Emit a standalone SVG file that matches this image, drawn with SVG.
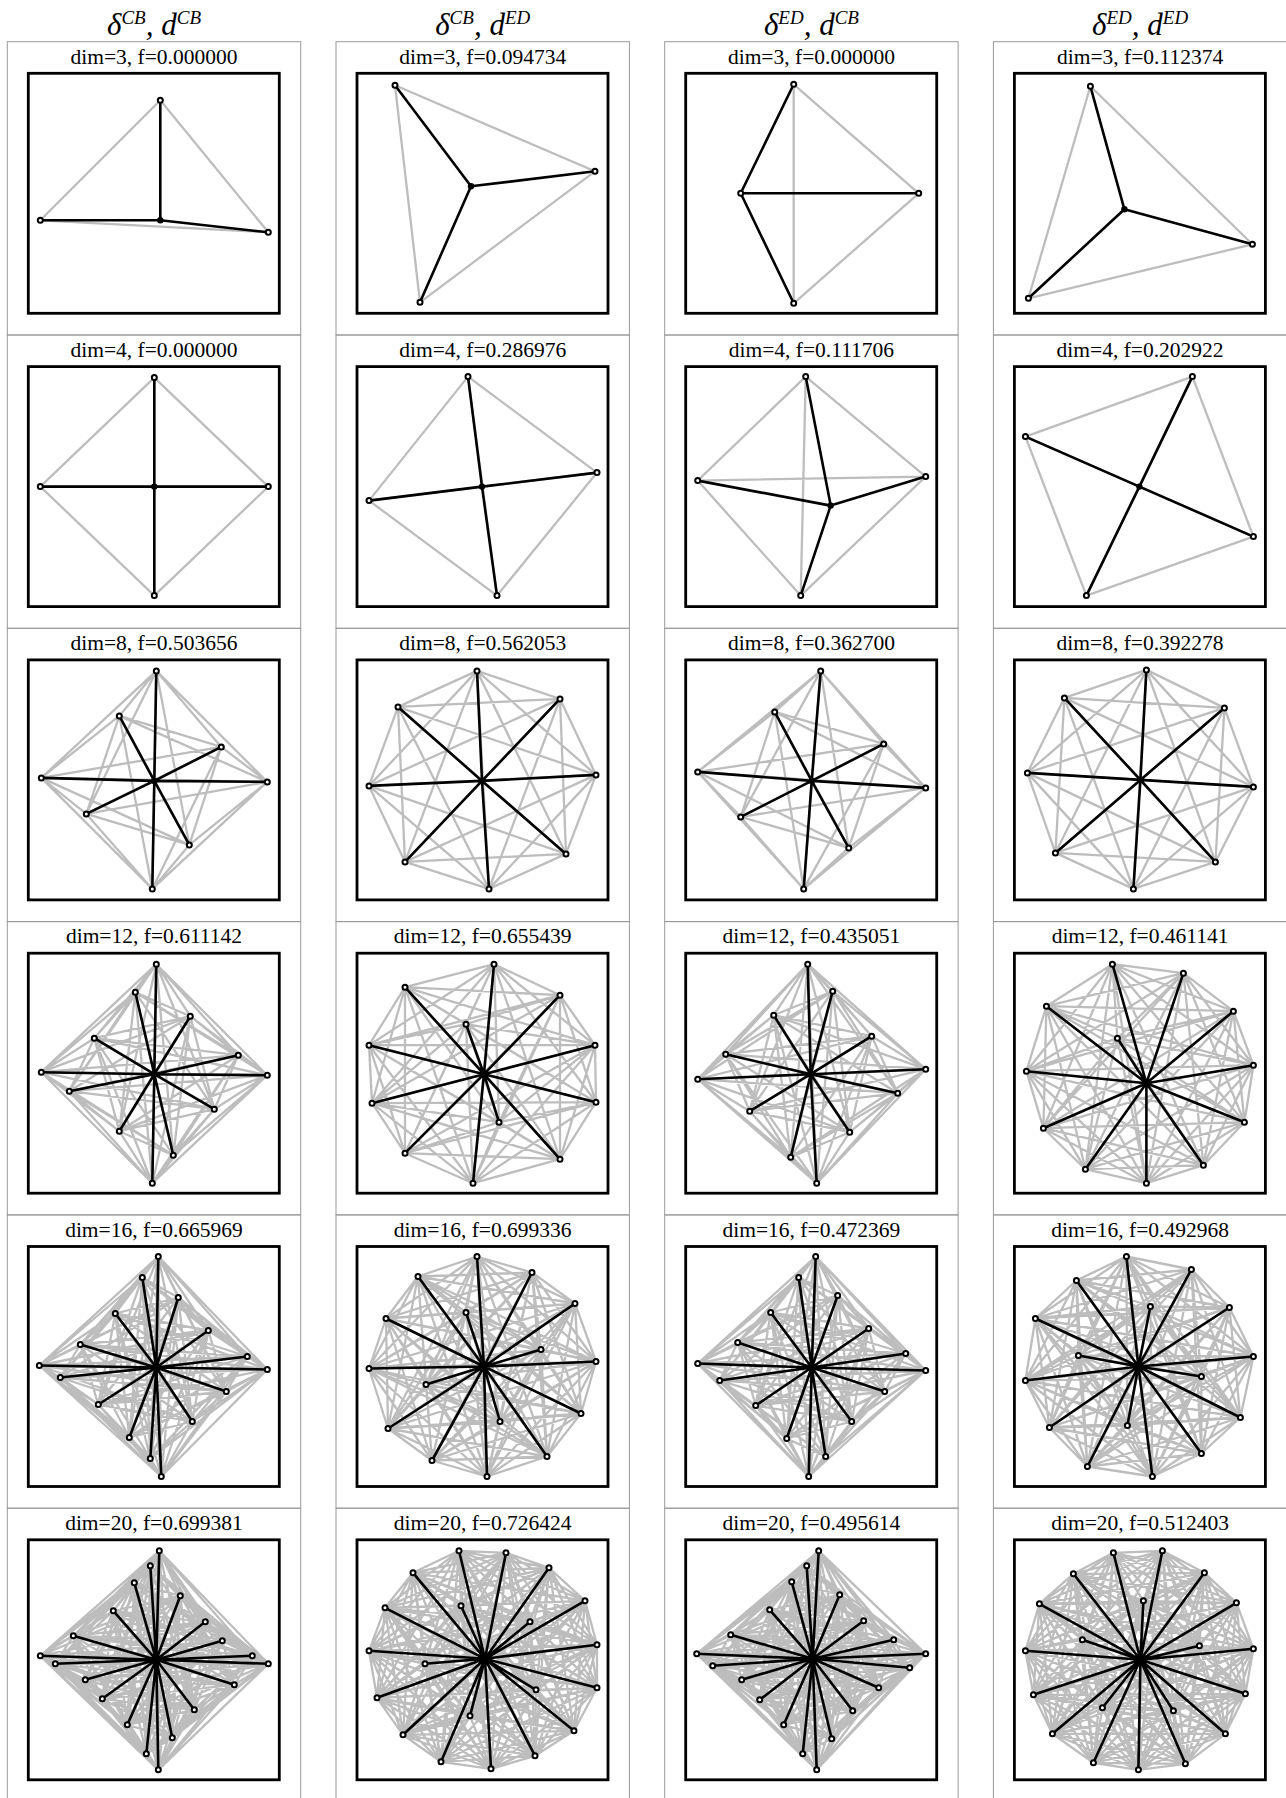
<svg xmlns="http://www.w3.org/2000/svg" width="1286" height="1798" viewBox="0 0 1286 1798">
<style>
text{font-family:"Liberation Serif","Times New Roman",serif;fill:#000}
.hd{font-size:31px;font-style:italic;text-anchor:middle}
.sup{font-size:19px}
.tt{font-size:21.5px;text-anchor:middle}
.cell{fill:none;stroke:#9a9a9a;stroke-width:1}
.b{fill:#fff;stroke:#000;stroke-width:2.8}
.g{fill:none;stroke:#bdbdbd;stroke-width:2.3;stroke-linejoin:round}
.k{fill:none;stroke:#000;stroke-width:2.6;stroke-linecap:round;stroke-linejoin:round}
.p{fill:none;stroke:none;marker-start:url(#o);marker-mid:url(#o);marker-end:url(#o)}
.c{fill:#000}
</style>
<defs>
<marker id="o" markerUnits="userSpaceOnUse" markerWidth="10" markerHeight="10" refX="5" refY="5" overflow="visible"><circle cx="5" cy="5" r="2.5" fill="#fff" stroke="#000" stroke-width="2"/></marker>
</defs>
<rect width="1286" height="1798" fill="#fff"/>
<g id="headers">
<text class="hd" x="154" y="35">δ<tspan class="sup" dy="-11">CB</tspan><tspan dy="11">, d</tspan><tspan class="sup" dy="-11">CB</tspan></text>
<text class="hd" x="482.7" y="35">δ<tspan class="sup" dy="-11">CB</tspan><tspan dy="11">, d</tspan><tspan class="sup" dy="-11">ED</tspan></text>
<text class="hd" x="811.4" y="35">δ<tspan class="sup" dy="-11">ED</tspan><tspan dy="11">, d</tspan><tspan class="sup" dy="-11">CB</tspan></text>
<text class="hd" x="1140.1" y="35">δ<tspan class="sup" dy="-11">ED</tspan><tspan dy="11">, d</tspan><tspan class="sup" dy="-11">ED</tspan></text>
</g>

<g id="cell-1-1"><rect class="cell" x="7.3" y="41.7" width="293.4" height="293.3"/><text class="tt" x="154" y="63.5">dim=3, f=0.000000</text>
<g transform="translate(28.3 73.3)"><rect class="b" width="251" height="240"/>
<g class="edges"><path class="g" d="M132 27 12 147 240 159Z"/><path class="k" d="M132 27 132 147 12 147M132 147 240 159"/></g>
<path class="p" d="M132 27 12 147 240 159"/><circle class="c" cx="132" cy="147" r="3.2"/></g></g>

<g id="cell-1-2"><rect class="cell" x="336" y="41.7" width="293.4" height="293.3"/><text class="tt" x="482.7" y="63.5">dim=3, f=0.094734</text>
<g transform="translate(357 73.3)"><rect class="b" width="251" height="240"/>
<g class="edges"><path class="g" d="M38 12 238 98 63 229Z"/><path class="k" d="M38 12 114 113 238 98M114 113 63 229"/></g>
<path class="p" d="M38 12 238 98 63 229"/><circle class="c" cx="114" cy="113" r="3.2"/></g></g>

<g id="cell-1-3"><rect class="cell" x="664.7" y="41.7" width="293.4" height="293.3"/><text class="tt" x="811.4" y="63.5">dim=3, f=0.000000</text>
<g transform="translate(685.7 73.3)"><rect class="b" width="251" height="240"/>
<g class="edges"><path class="g" d="M108 11 233 120 108 230Z"/><path class="k" d="M108 11 55 120 233 120M55 120 108 230"/></g>
<path class="p" d="M108 11 233 120 108 230 55 120"/></g></g>

<g id="cell-1-4"><rect class="cell" x="993.4" y="41.7" width="293.4" height="293.3"/><text class="tt" x="1140.1" y="63.5">dim=3, f=0.112374</text>
<g transform="translate(1014.4 73.3)"><rect class="b" width="251" height="240"/>
<g class="edges"><path class="g" d="M76 13 238 171 14 225Z"/><path class="k" d="M76 13 110 136 238 171M110 136 14 225"/></g>
<path class="p" d="M76 13 238 171 14 225"/><circle class="c" cx="110" cy="136" r="3.2"/></g></g>

<g id="cell-2-1"><rect class="cell" x="7.3" y="335" width="293.4" height="293.3"/><text class="tt" x="154" y="356.8">dim=4, f=0.000000</text>
<g transform="translate(28.3 366.6)"><rect class="b" width="251" height="240"/>
<g class="edges"><path class="g" d="M126 11 240 120 126 229 12 120ZM126 11 126 229M240 120 12 120"/><path class="k" d="M126 11 126 120 240 120M126 229 126 120 12 120"/></g>
<path class="p" d="M126 11 240 120 126 229 12 120"/><circle class="c" cx="126" cy="120" r="3.2"/></g></g>

<g id="cell-2-2"><rect class="cell" x="336" y="335" width="293.4" height="293.3"/><text class="tt" x="482.7" y="356.8">dim=4, f=0.286976</text>
<g transform="translate(357 366.6)"><rect class="b" width="251" height="240"/>
<g class="edges"><path class="g" d="M111 10 240 106 140 229 12 134ZM111 10 140 229M240 106 12 134"/><path class="k" d="M111 10 125 120 240 106M140 229 125 120 12 134"/></g>
<path class="p" d="M111 10 240 106 140 229 12 134"/><circle class="c" cx="125" cy="120" r="3.2"/></g></g>

<g id="cell-2-3"><rect class="cell" x="664.7" y="335" width="293.4" height="293.3"/><text class="tt" x="811.4" y="356.8">dim=4, f=0.111706</text>
<g transform="translate(685.7 366.6)"><rect class="b" width="251" height="240"/>
<g class="edges"><path class="g" d="M120 10 240 110 115 229 12 114ZM120 10 115 229M240 110 12 114"/><path class="k" d="M120 10 145 139 240 110M115 229 145 139 12 114"/></g>
<path class="p" d="M120 10 240 110 115 229 12 114"/><circle class="c" cx="145" cy="139" r="3.2"/></g></g>

<g id="cell-2-4"><rect class="cell" x="993.4" y="335" width="293.4" height="293.3"/><text class="tt" x="1140.1" y="356.8">dim=4, f=0.202922</text>
<g transform="translate(1014.4 366.6)"><rect class="b" width="251" height="240"/>
<g class="edges"><path class="g" d="M178 10 239 170 72 229 11 70ZM178 10 72 229M239 170 11 70"/><path class="k" d="M178 10 125 120 239 170M72 229 125 120 11 70"/></g>
<path class="p" d="M178 10 239 170 72 229 11 70"/><circle class="c" cx="125" cy="120" r="3.2"/></g></g>

<g id="cell-3-1"><rect class="cell" x="7.3" y="628.3" width="293.4" height="293.3"/><text class="tt" x="154" y="650.1">dim=8, f=0.503656</text>
<g transform="translate(28.3 659.9)"><rect class="b" width="251" height="240"/>
<g class="edges"><path class="g" d="M128 11 91 56 193 87 13 118 239 122 58 154 161 185 124 229ZM128 11 193 87 239 122 161 185ZM91 56 13 118 58 154 124 229ZM128 11 13 118 161 185 91 56 239 122 124 229 193 87 58 154ZM128 11 239 122M91 56 58 154M193 87 161 185M13 118 124 229"/>
<path class="k" d="M128 11 126 121 91 56M193 87 126 121 13 118M239 122 126 121 58 154M161 185 126 121 124 229"/></g>
<path class="p" d="M128 11 91 56 193 87 13 118 239 122 58 154 161 185 124 229"/><circle class="c" cx="126" cy="121" r="3.2"/></g></g>

<g id="cell-3-2"><rect class="cell" x="336" y="628.3" width="293.4" height="293.3"/><text class="tt" x="482.7" y="650.1">dim=8, f=0.562053</text>
<g transform="translate(357 659.9)"><rect class="b" width="251" height="240"/>
<g class="edges"><path class="g" d="M120 11 203 39 41 47 239 115 12 126 209 194 48 202 132 229ZM120 11 41 47 12 126 48 202ZM203 39 239 115 209 194 132 229ZM120 11 239 115 48 202 203 39 12 126 132 229 41 47 209 194ZM120 11 12 126M203 39 209 194M41 47 48 202M239 115 132 229"/>
<path class="k" d="M120 11 125 121 203 39M41 47 125 121 239 115M12 126 125 121 209 194M48 202 125 121 132 229"/></g>
<path class="p" d="M120 11 203 39 41 47 239 115 12 126 209 194 48 202 132 229"/><circle class="c" cx="125" cy="121" r="3.2"/></g></g>

<g id="cell-3-3"><rect class="cell" x="664.7" y="628.3" width="293.4" height="293.3"/><text class="tt" x="811.4" y="650.1">dim=8, f=0.362700</text>
<g transform="translate(685.7 659.9)"><rect class="b" width="251" height="240"/>
<g class="edges"><path class="g" d="M135 11 89 52 198 84 12 112 240 128 55 157 163 188 118 229ZM135 11 198 84 240 128 163 188ZM89 52 12 112 55 157 118 229ZM135 11 12 112 163 188 89 52 240 128 118 229 198 84 55 157ZM135 11 240 128M89 52 55 157M198 84 163 188M12 112 118 229"/>
<path class="k" d="M135 11 126 121 89 52M198 84 126 121 12 112M240 128 126 121 55 157M163 188 126 121 118 229"/></g>
<path class="p" d="M135 11 89 52 198 84 12 112 240 128 55 157 163 188 118 229"/><circle class="c" cx="126" cy="121" r="3.2"/></g></g>

<g id="cell-3-4"><rect class="cell" x="993.4" y="628.3" width="293.4" height="293.3"/><text class="tt" x="1140.1" y="650.1">dim=8, f=0.392278</text>
<g transform="translate(1014.4 659.9)"><rect class="b" width="251" height="240"/>
<g class="edges"><path class="g" d="M132 10 50 38 210 48 13 113 239 127 41 193 201 202 119 229ZM132 10 210 48 239 127 201 202ZM50 38 13 113 41 193 119 229ZM132 10 13 113 201 202 50 38 239 127 119 229 210 48 41 193ZM132 10 239 127M50 38 41 193M210 48 201 202M13 113 119 229"/>
<path class="k" d="M132 10 126 120 50 38M210 48 126 120 13 113M239 127 126 120 41 193M201 202 126 120 119 229"/></g>
<path class="p" d="M132 10 50 38 210 48 13 113 239 127 41 193 201 202 119 229"/><circle class="c" cx="126" cy="120" r="3.2"/></g></g>

<g id="cell-4-1"><rect class="cell" x="7.3" y="921.6" width="293.4" height="293.3"/><text class="tt" x="154" y="943.4">dim=12, f=0.611142</text>
<g transform="translate(28.3 953.2)"><rect class="b" width="251" height="240"/>
<g class="edges"><path class="g" d="M128 11 107 39 162 63 66 85 210 102 13 119 239 122 41 138 186 156 91 178 145 202 124 230ZM128 11 162 63 210 102 239 122 186 156 145 202ZM107 39 66 85 13 119 41 138 91 178 124 230ZM128 11 66 85 239 122 91 178ZM107 39 210 102 41 138 145 202ZM162 63 13 119 186 156 124 230ZM128 11 210 102 186 156ZM107 39 13 119 91 178ZM162 63 239 122 145 202ZM66 85 41 138 124 230ZM128 11 13 119 145 202 66 85 186 156 107 39 239 122 124 230 210 102 91 178 162 63 41 138ZM128 11 239 122M107 39 41 138M162 63 186 156M66 85 91 178M210 102 145 202M13 119 124 230"/>
<path class="k" d="M128 11 126 121 107 39M162 63 126 121 66 85M210 102 126 121 13 119M239 122 126 121 41 138M186 156 126 121 91 178M145 202 126 121 124 230"/></g>
<path class="p" d="M128 11 107 39 162 63 66 85 210 102 13 119 239 122 41 138 186 156 91 178 145 202 124 230"/><circle class="c" cx="126" cy="121" r="3.2"/></g></g>

<g id="cell-4-2"><rect class="cell" x="336" y="921.6" width="293.4" height="293.3"/><text class="tt" x="482.7" y="943.4">dim=12, f=0.655439</text>
<g transform="translate(357 953.2)"><rect class="b" width="251" height="240"/>
<g class="edges"><path class="g" d="M137 11 48 34 203 42 109 71 12 92 238 92 15 150 239 149 142 169 48 200 203 206 116 230ZM137 11 203 42 12 92 15 150 142 169 203 206ZM48 34 109 71 238 92 239 149 48 200 116 230ZM137 11 109 71 15 150 48 200ZM48 34 12 92 239 149 203 206ZM203 42 238 92 142 169 116 230ZM137 11 12 92 142 169ZM48 34 238 92 48 200ZM203 42 15 150 203 206ZM109 71 239 149 116 230ZM137 11 238 92 203 206 109 71 142 169 48 34 15 150 116 230 12 92 48 200 203 42 239 149ZM137 11 15 150M48 34 239 149M203 42 142 169M109 71 48 200M12 92 203 206M238 92 116 230"/>
<path class="k" d="M137 11 127 121 48 34M203 42 127 121 109 71M12 92 127 121 238 92M15 150 127 121 239 149M142 169 127 121 48 200M203 206 127 121 116 230"/></g>
<path class="p" d="M137 11 48 34 203 42 109 71 12 92 238 92 15 150 239 149 142 169 48 200 203 206 116 230"/><circle class="c" cx="127" cy="121" r="3.2"/></g></g>

<g id="cell-4-3"><rect class="cell" x="664.7" y="921.6" width="293.4" height="293.3"/><text class="tt" x="811.4" y="943.4">dim=12, f=0.435051</text>
<g transform="translate(685.7 953.2)"><rect class="b" width="251" height="240"/>
<g class="edges"><path class="g" d="M122 11 147 38 88 62 186 83 40 101 240 116 12 126 212 140 64 158 164 179 105 204 131 230ZM122 11 88 62 40 101 12 126 64 158 105 204ZM147 38 186 83 240 116 212 140 164 179 131 230ZM122 11 186 83 12 126 164 179ZM147 38 40 101 212 140 105 204ZM88 62 240 116 64 158 131 230ZM122 11 40 101 64 158ZM147 38 240 116 164 179ZM88 62 12 126 105 204ZM186 83 212 140 131 230ZM122 11 240 116 105 204 186 83 64 158 147 38 12 126 131 230 40 101 164 179 88 62 212 140ZM122 11 12 126M147 38 212 140M88 62 64 158M186 83 164 179M40 101 105 204M240 116 131 230"/>
<path class="k" d="M122 11 125 121 147 38M88 62 125 121 186 83M40 101 125 121 240 116M12 126 125 121 212 140M64 158 125 121 164 179M105 204 125 121 131 230"/></g>
<path class="p" d="M122 11 147 38 88 62 186 83 40 101 240 116 12 126 212 140 64 158 164 179 105 204 131 230"/><circle class="c" cx="125" cy="121" r="3.2"/></g></g>

<g id="cell-4-4"><rect class="cell" x="993.4" y="921.6" width="293.4" height="293.3"/><text class="tt" x="1140.1" y="943.4">dim=12, f=0.461141</text>
<g transform="translate(1014.4 953.2)"><rect class="b" width="251" height="240"/>
<g class="edges"><path class="g" d="M98 11 169 20 32 53 219 58 103 85 239 112 12 118 230 169 29 175 189 212 71 216 132 230ZM98 11 32 53 103 85 12 118 29 175 71 216ZM169 20 219 58 239 112 230 169 189 212 132 230ZM98 11 219 58 12 118 189 212ZM169 20 103 85 230 169 71 216ZM32 53 239 112 29 175 132 230ZM98 11 103 85 29 175ZM169 20 239 112 189 212ZM32 53 12 118 71 216ZM219 58 230 169 132 230ZM98 11 239 112 71 216 219 58 29 175 169 20 12 118 132 230 103 85 189 212 32 53 230 169ZM98 11 12 118M169 20 230 169M32 53 29 175M219 58 189 212M103 85 71 216M239 112 132 230"/>
<path class="k" d="M98 11 132 130 169 20M32 53 132 130 219 58M103 85 132 130 239 112M12 118 132 130 230 169M29 175 132 130 189 212M71 216 132 130 132 230"/></g>
<path class="p" d="M98 11 169 20 32 53 219 58 103 85 239 112 12 118 230 169 29 175 189 212 71 216 132 230"/><circle class="c" cx="132" cy="130" r="3.2"/></g></g>

<g id="cell-5-1"><rect class="cell" x="7.3" y="1214.9" width="293.4" height="293.3"/><text class="tt" x="154" y="1236.7">dim=16, f=0.665969</text>
<g transform="translate(28.3 1246.5)"><rect class="b" width="251" height="240"/>
<g class="edges"><path class="g" d="M130 10 114 31 150 51 87 67 180 84 52 98 219 110 11 119 239 123 32 131 198 145 70 158 164 175 101 191 122 212 133 230ZM130 10 150 51 180 84 219 110 239 123 198 145 164 175 122 212ZM114 31 87 67 52 98 11 119 32 131 70 158 101 191 133 230ZM130 10 87 67 219 110 32 131 164 175 133 230 150 51 52 98 239 123 70 158 122 212 114 31 180 84 11 119 198 145 101 191ZM130 10 180 84 239 123 164 175ZM114 31 52 98 32 131 101 191ZM150 51 219 110 198 145 122 212ZM87 67 11 119 70 158 133 230ZM130 10 52 98 198 145 133 230 180 84 32 131 122 212 87 67 239 123 101 191 150 51 11 119 164 175 114 31 219 110 70 158ZM130 10 219 110 164 175 150 51 239 123 122 212 180 84 198 145ZM114 31 11 119 101 191 87 67 32 131 133 230 52 98 70 158ZM130 10 11 119 122 212 52 98 164 175 87 67 198 145 114 31 239 123 133 230 219 110 101 191 180 84 70 158 150 51 32 131ZM130 10 239 123M114 31 32 131M150 51 198 145M87 67 70 158M180 84 164 175M52 98 101 191M219 110 122 212M11 119 133 230"/>
<path class="k" d="M130 10 128 121 114 31M150 51 128 121 87 67M180 84 128 121 52 98M219 110 128 121 11 119M239 123 128 121 32 131M198 145 128 121 70 158M164 175 128 121 101 191M122 212 128 121 133 230"/></g>
<path class="p" d="M130 10 114 31 150 51 87 67 180 84 52 98 219 110 11 119 239 123 32 131 198 145 70 158 164 175 101 191 122 212 133 230"/><circle class="c" cx="128" cy="121" r="3.2"/></g></g>

<g id="cell-5-2"><rect class="cell" x="336" y="1214.9" width="293.4" height="293.3"/><text class="tt" x="482.7" y="1236.7">dim=16, f=0.699336</text>
<g transform="translate(357 1246.5)"><rect class="b" width="251" height="240"/>
<g class="edges"><path class="g" d="M120 10 175 26 61 30 218 57 109 66 29 72 184 103 239 115 12 122 69 138 224 167 143 175 31 182 190 210 75 214 130 230ZM120 10 61 30 109 66 184 103 12 122 224 167 31 182 75 214ZM175 26 218 57 29 72 239 115 69 138 143 175 190 210 130 230ZM120 10 218 57 184 103 69 138 31 182 130 230 61 30 29 72 12 122 143 175 75 214 175 26 109 66 239 115 224 167 190 210ZM120 10 109 66 12 122 31 182ZM175 26 29 72 69 138 190 210ZM61 30 184 103 224 167 75 214ZM218 57 239 115 143 175 130 230ZM120 10 29 72 224 167 130 230 109 66 69 138 75 214 218 57 12 122 190 210 61 30 239 115 31 182 175 26 184 103 143 175ZM120 10 184 103 31 182 61 30 12 122 75 214 109 66 224 167ZM175 26 239 115 190 210 218 57 69 138 130 230 29 72 143 175ZM120 10 239 115 75 214 29 72 31 182 218 57 224 167 175 26 12 122 130 230 184 103 190 210 109 66 143 175 61 30 69 138ZM120 10 12 122M175 26 69 138M61 30 224 167M218 57 143 175M109 66 31 182M29 72 190 210M184 103 75 214M239 115 130 230"/>
<path class="k" d="M120 10 127 120 175 26M61 30 127 120 218 57M109 66 127 120 29 72M184 103 127 120 239 115M12 122 127 120 69 138M224 167 127 120 143 175M31 182 127 120 190 210M75 214 127 120 130 230"/></g>
<path class="p" d="M120 10 175 26 61 30 218 57 109 66 29 72 184 103 239 115 12 122 69 138 224 167 143 175 31 182 190 210 75 214 130 230"/><circle class="c" cx="127" cy="120" r="3.2"/></g></g>

<g id="cell-5-3"><rect class="cell" x="664.7" y="1214.9" width="293.4" height="293.3"/><text class="tt" x="811.4" y="1236.7">dim=16, f=0.472369</text>
<g transform="translate(685.7 1246.5)"><rect class="b" width="251" height="240"/>
<g class="edges"><path class="g" d="M130 10 113 31 152 49 85 66 183 82 52 96 220 107 12 117 240 124 34 134 199 145 70 159 166 175 101 192 140 210 123 230ZM130 10 152 49 183 82 220 107 240 124 199 145 166 175 140 210ZM113 31 85 66 52 96 12 117 34 134 70 159 101 192 123 230ZM130 10 85 66 220 107 34 134 166 175 123 230 152 49 52 96 240 124 70 159 140 210 113 31 183 82 12 117 199 145 101 192ZM130 10 183 82 240 124 166 175ZM113 31 52 96 34 134 101 192ZM152 49 220 107 199 145 140 210ZM85 66 12 117 70 159 123 230ZM130 10 52 96 199 145 123 230 183 82 34 134 140 210 85 66 240 124 101 192 152 49 12 117 166 175 113 31 220 107 70 159ZM130 10 220 107 166 175 152 49 240 124 140 210 183 82 199 145ZM113 31 12 117 101 192 85 66 34 134 123 230 52 96 70 159ZM130 10 12 117 140 210 52 96 166 175 85 66 199 145 113 31 240 124 123 230 220 107 101 192 183 82 70 159 152 49 34 134ZM130 10 240 124M113 31 34 134M152 49 199 145M85 66 70 159M183 82 166 175M52 96 101 192M220 107 140 210M12 117 123 230"/>
<path class="k" d="M130 10 126 121 113 31M152 49 126 121 85 66M183 82 126 121 52 96M220 107 126 121 12 117M240 124 126 121 34 134M199 145 126 121 70 159M166 175 126 121 101 192M140 210 126 121 123 230"/></g>
<path class="p" d="M130 10 113 31 152 49 85 66 183 82 52 96 220 107 12 117 240 124 34 134 199 145 70 159 166 175 101 192 140 210 123 230"/><circle class="c" cx="126" cy="121" r="3.2"/></g></g>

<g id="cell-5-4"><rect class="cell" x="993.4" y="1214.9" width="293.4" height="293.3"/><text class="tt" x="1140.1" y="1236.7">dim=16, f=0.492968</text>
<g transform="translate(1014.4 1246.5)"><rect class="b" width="251" height="240"/>
<g class="edges"><path class="g" d="M112 10 177 23 62 34 215 61 136 60 21 72 64 109 239 110 187 130 11 134 226 171 113 179 35 181 187 207 73 220 138 230ZM112 10 62 34 136 60 64 109 187 130 226 171 35 181 73 220ZM177 23 215 61 21 72 239 110 11 134 113 179 187 207 138 230ZM112 10 215 61 64 109 11 134 35 181 138 230 62 34 21 72 187 130 113 179 73 220 177 23 136 60 239 110 226 171 187 207ZM112 10 136 60 187 130 35 181ZM177 23 21 72 11 134 187 207ZM62 34 64 109 226 171 73 220ZM215 61 239 110 113 179 138 230ZM112 10 21 72 226 171 138 230 136 60 11 134 73 220 215 61 187 130 187 207 62 34 239 110 35 181 177 23 64 109 113 179ZM112 10 64 109 35 181 62 34 187 130 73 220 136 60 226 171ZM177 23 239 110 187 207 215 61 11 134 138 230 21 72 113 179ZM112 10 239 110 73 220 21 72 35 181 215 61 226 171 177 23 187 130 138 230 64 109 187 207 136 60 113 179 62 34 11 134ZM112 10 187 130M177 23 11 134M62 34 226 171M215 61 113 179M136 60 35 181M21 72 187 207M64 109 73 220M239 110 138 230"/>
<path class="k" d="M112 10 124 120 177 23M62 34 124 120 215 61M136 60 124 120 21 72M64 109 124 120 239 110M187 130 124 120 11 134M226 171 124 120 113 179M35 181 124 120 187 207M73 220 124 120 138 230"/></g>
<path class="p" d="M112 10 177 23 62 34 215 61 136 60 21 72 64 109 239 110 187 130 11 134 226 171 113 179 35 181 187 207 73 220 138 230"/><circle class="c" cx="124" cy="120" r="3.2"/></g></g>

<g id="cell-6-1"><rect class="cell" x="7.3" y="1508.2" width="293.4" height="293.3"/><text class="tt" x="154" y="1530">dim=20, f=0.699381</text>
<g transform="translate(28.3 1539.8)"><rect class="b" width="251" height="240"/>
<g class="edges"><path class="g" d="M131 11 122 26 106 43 85 71 45 96 12 116 27 124 57 140 74 159 99 185 118 214 130 230 144 198 166 170 206 145 240 124 224 116 194 101 177 82 152 56ZM131 11 106 43 45 96 27 124 74 159 118 214 144 198 206 145 224 116 177 82ZM122 26 85 71 12 116 57 140 99 185 130 230 166 170 240 124 194 101 152 56ZM131 11 85 71 27 124 99 185 144 198 240 124 177 82 122 26 45 96 57 140 118 214 166 170 224 116 152 56 106 43 12 116 74 159 130 230 206 145 194 101ZM131 11 45 96 74 159 144 198 224 116ZM122 26 12 116 99 185 166 170 194 101ZM106 43 27 124 118 214 206 145 177 82ZM85 71 57 140 130 230 240 124 152 56ZM131 11 12 116 118 214 240 124ZM122 26 27 124 130 230 224 116ZM106 43 57 140 144 198 194 101ZM85 71 74 159 166 170 177 82ZM45 96 99 185 206 145 152 56ZM131 11 27 124 144 198 177 82 45 96 118 214 224 116 106 43 74 159 206 145ZM122 26 57 140 166 170 152 56 12 116 130 230 194 101 85 71 99 185 240 124ZM131 11 57 140 206 145 122 26 74 159 240 124 106 43 99 185 224 116 85 71 118 214 194 101 45 96 130 230 177 82 12 116 144 198 152 56 27 124 166 170ZM131 11 74 159 224 116 45 96 144 198ZM122 26 99 185 194 101 12 116 166 170ZM106 43 118 214 177 82 27 124 206 145ZM85 71 130 230 152 56 57 140 240 124ZM131 11 99 185 177 82 57 140 224 116 12 116 206 145 85 71 144 198 122 26 118 214 152 56 74 159 194 101 27 124 240 124 45 96 166 170 106 43 130 230ZM131 11 118 214M122 26 130 230M106 43 144 198M85 71 166 170M45 96 206 145M12 116 240 124M27 124 224 116M57 140 194 101M74 159 177 82M99 185 152 56"/>
<path class="k" d="M131 11 128 120 122 26M106 43 128 120 85 71M45 96 128 120 12 116M27 124 128 120 57 140M74 159 128 120 99 185M118 214 128 120 130 230M144 198 128 120 166 170M206 145 128 120 240 124M224 116 128 120 194 101M177 82 128 120 152 56"/></g>
<path class="p" d="M131 11 122 26 106 43 85 71 45 96 12 116 27 124 57 140 74 159 99 185 118 214 130 230 144 198 166 170 206 145 240 124 224 116 194 101 177 82 152 56"/><circle class="c" cx="128" cy="120" r="3.2"/></g></g>

<g id="cell-6-2"><rect class="cell" x="336" y="1508.2" width="293.4" height="293.3"/><text class="tt" x="482.7" y="1530">dim=20, f=0.726424</text>
<g transform="translate(357 1539.8)"><rect class="b" width="251" height="240"/>
<g class="edges"><path class="g" d="M102 11 149 13 56 33 192 28 28 68 228 61 104 66 173 82 12 111 240 105 68 124 179 150 20 158 240 148 113 176 46 195 217 191 84 222 178 216 134 229ZM102 11 56 33 28 68 104 66 12 111 68 124 20 158 113 176 217 191 178 216ZM149 13 192 28 228 61 173 82 240 105 179 150 240 148 46 195 84 222 134 229ZM102 11 192 28 104 66 240 105 20 158 46 195 178 216 149 13 28 68 173 82 68 124 240 148 217 191 134 229 56 33 228 61 12 111 179 150 113 176 84 222ZM102 11 28 68 12 111 20 158 217 191ZM149 13 228 61 240 105 240 148 84 222ZM56 33 104 66 68 124 113 176 178 216ZM192 28 173 82 179 150 46 195 134 229ZM102 11 228 61 68 124 46 195ZM149 13 104 66 179 150 217 191ZM56 33 173 82 20 158 84 222ZM192 28 12 111 240 148 178 216ZM28 68 240 105 113 176 134 229ZM102 11 104 66 20 158 178 216 28 68 68 124 217 191 56 33 12 111 113 176ZM149 13 173 82 240 148 134 229 228 61 179 150 84 222 192 28 240 105 46 195ZM102 11 173 82 113 176 149 13 12 111 46 195 56 33 240 105 217 191 192 28 68 124 84 222 28 68 179 150 178 216 228 61 20 158 134 229 104 66 240 148ZM102 11 12 111 217 191 28 68 20 158ZM149 13 240 105 84 222 228 61 240 148ZM56 33 68 124 178 216 104 66 113 176ZM192 28 179 150 134 229 173 82 46 195ZM102 11 240 105 178 216 173 82 217 191 228 61 113 176 192 28 20 158 149 13 68 124 134 229 12 111 84 222 104 66 46 195 28 68 240 148 56 33 179 150ZM102 11 68 124M149 13 179 150M56 33 20 158M192 28 240 148M28 68 113 176M228 61 46 195M104 66 217 191M173 82 84 222M12 111 178 216M240 105 134 229"/>
<path class="k" d="M102 11 128 119 149 13M56 33 128 119 192 28M28 68 128 119 228 61M104 66 128 119 173 82M12 111 128 119 240 105M68 124 128 119 179 150M20 158 128 119 240 148M113 176 128 119 46 195M217 191 128 119 84 222M178 216 128 119 134 229"/></g>
<path class="p" d="M102 11 149 13 56 33 192 28 28 68 228 61 104 66 173 82 12 111 240 105 68 124 179 150 20 158 240 148 113 176 46 195 217 191 84 222 178 216 134 229"/><circle class="c" cx="128" cy="119" r="3.2"/></g></g>

<g id="cell-6-3"><rect class="cell" x="664.7" y="1508.2" width="293.4" height="293.3"/><text class="tt" x="811.4" y="1530">dim=20, f=0.495614</text>
<g transform="translate(685.7 1539.8)"><rect class="b" width="251" height="240"/>
<g class="edges"><path class="g" d="M133 11 121 26 106 42 154 55 84 70 178 81 45 95 208 100 11 114 240 114 27 126 224 128 56 140 193 148 74 160 167 171 98 185 146 199 117 214 131 230ZM133 11 106 42 84 70 45 95 11 114 27 126 56 140 74 160 98 185 117 214ZM121 26 154 55 178 81 208 100 240 114 224 128 193 148 167 171 146 199 131 230ZM133 11 154 55 45 95 240 114 56 140 167 171 117 214 121 26 84 70 208 100 27 126 193 148 98 185 131 230 106 42 178 81 11 114 224 128 74 160 146 199ZM133 11 84 70 11 114 56 140 98 185ZM121 26 178 81 240 114 193 148 146 199ZM106 42 45 95 27 126 74 160 117 214ZM154 55 208 100 224 128 167 171 131 230ZM133 11 178 81 27 126 167 171ZM121 26 45 95 224 128 98 185ZM106 42 208 100 56 140 146 199ZM154 55 11 114 193 148 117 214ZM84 70 240 114 74 160 131 230ZM133 11 45 95 56 140 117 214 84 70 27 126 98 185 106 42 11 114 74 160ZM121 26 208 100 193 148 131 230 178 81 224 128 146 199 154 55 240 114 167 171ZM133 11 208 100 74 160 121 26 11 114 167 171 106 42 240 114 98 185 154 55 27 126 146 199 84 70 224 128 117 214 178 81 56 140 131 230 45 95 193 148ZM133 11 11 114 98 185 84 70 56 140ZM121 26 240 114 146 199 178 81 193 148ZM106 42 27 126 117 214 45 95 74 160ZM154 55 224 128 131 230 208 100 167 171ZM133 11 240 114 117 214 208 100 98 185 178 81 74 160 154 55 56 140 121 26 27 126 131 230 11 114 146 199 45 95 167 171 84 70 193 148 106 42 224 128ZM133 11 27 126M121 26 224 128M106 42 56 140M154 55 193 148M84 70 74 160M178 81 167 171M45 95 98 185M208 100 146 199M11 114 117 214M240 114 131 230"/>
<path class="k" d="M133 11 127 119 121 26M106 42 127 119 154 55M84 70 127 119 178 81M45 95 127 119 208 100M11 114 127 119 240 114M27 126 127 119 224 128M56 140 127 119 193 148M74 160 127 119 167 171M98 185 127 119 146 199M117 214 127 119 131 230"/></g>
<path class="p" d="M133 11 121 26 106 42 154 55 84 70 178 81 45 95 208 100 11 114 240 114 27 126 224 128 56 140 193 148 74 160 167 171 98 185 146 199 117 214 131 230"/><circle class="c" cx="127" cy="119" r="3.2"/></g></g>

<g id="cell-6-4"><rect class="cell" x="993.4" y="1508.2" width="293.4" height="293.3"/><text class="tt" x="1140.1" y="1530">dim=20, f=0.512403</text>
<g transform="translate(1014.4 1539.8)"><rect class="b" width="251" height="240"/>
<g class="edges"><path class="g" d="M99 13 148 11 59 34 190 33 25 64 222 63 129 61 68 100 185 106 11 111 239 109 19 155 231 154 88 168 159 171 38 194 211 194 79 223 171 224 124 230ZM99 13 59 34 25 64 129 61 185 106 239 109 231 154 159 171 211 194 171 224ZM148 11 190 33 222 63 68 100 11 111 19 155 88 168 38 194 79 223 124 230ZM99 13 190 33 129 61 11 111 231 154 38 194 171 224 148 11 25 64 68 100 239 109 88 168 211 194 124 230 59 34 222 63 185 106 19 155 159 171 79 223ZM99 13 25 64 185 106 231 154 211 194ZM148 11 222 63 11 111 88 168 79 223ZM59 34 129 61 239 109 159 171 171 224ZM190 33 68 100 19 155 38 194 124 230ZM99 13 222 63 239 109 38 194ZM148 11 129 61 19 155 211 194ZM59 34 68 100 231 154 79 223ZM190 33 185 106 88 168 171 224ZM25 64 11 111 159 171 124 230ZM99 13 129 61 231 154 171 224 25 64 239 109 211 194 59 34 185 106 159 171ZM148 11 68 100 88 168 124 230 222 63 19 155 79 223 190 33 11 111 38 194ZM99 13 68 100 159 171 148 11 185 106 38 194 59 34 11 111 211 194 190 33 239 109 79 223 25 64 19 155 171 224 222 63 231 154 124 230 129 61 88 168ZM99 13 185 106 211 194 25 64 231 154ZM148 11 11 111 79 223 222 63 88 168ZM59 34 239 109 171 224 129 61 159 171ZM190 33 19 155 124 230 68 100 38 194ZM99 13 11 111 171 224 68 100 211 194 222 63 159 171 190 33 231 154 148 11 239 109 124 230 185 106 79 223 129 61 38 194 25 64 88 168 59 34 19 155ZM99 13 239 109M148 11 19 155M59 34 231 154M190 33 88 168M25 64 159 171M222 63 38 194M129 61 211 194M68 100 79 223M185 106 171 224M11 111 124 230"/>
<path class="k" d="M99 13 126 120 148 11M59 34 126 120 190 33M25 64 126 120 222 63M129 61 126 120 68 100M185 106 126 120 11 111M239 109 126 120 19 155M231 154 126 120 88 168M159 171 126 120 38 194M211 194 126 120 79 223M171 224 126 120 124 230"/></g>
<path class="p" d="M99 13 148 11 59 34 190 33 25 64 222 63 129 61 68 100 185 106 11 111 239 109 19 155 231 154 88 168 159 171 38 194 211 194 79 223 171 224 124 230"/><circle class="c" cx="126" cy="120" r="3.2"/></g></g>
</svg>
